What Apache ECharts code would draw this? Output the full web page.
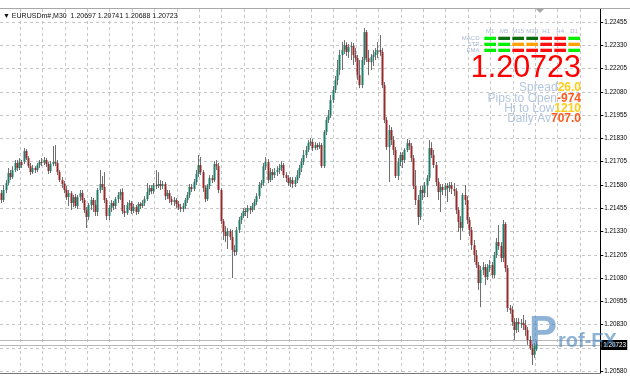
<!DOCTYPE html>
<html><head><meta charset="utf-8">
<script src="https://cdn.jsdelivr.net/npm/echarts@6/dist/echarts.min.js"></script>
<style>html,body{margin:0;padding:0;background:#fff}#c{width:630px;height:380px}</style>
</head><body><div id="c"></div>
<script>
const symbolTitle = 'EURUSDm#,M30';
const lastOHLC = ['1.20697', '1.20741', '1.20688', '1.20723'];
const yTicks = [1.22455,1.22330,1.22205,1.22080,1.21955,1.21830,1.21705,1.21580,1.21455,1.21330,1.21205,1.21080,1.20955,1.20830,1.20705,1.20580];
const bid = 1.20723;
const ask = 1.20749;

const open = [
1.21536,1.21499,1.21553,1.21590,1.21644,1.21622,1.21660,1.21698,1.21671,1.21703,
1.21703,1.21762,1.21724,1.21681,1.21649,1.21671,1.21660,1.21687,1.21703,1.21698,
1.21714,1.21692,1.21655,1.21692,1.21703,1.21698,1.21649,1.21606,1.21585,1.21553,
1.21515,1.21536,1.21483,1.21515,1.21467,1.21515,1.21536,1.21499,1.21445,1.21408,
1.21472,1.21499,1.21472,1.21435,1.21553,1.21585,1.21569,1.21499,1.21413,1.21456,
1.21483,1.21467,1.21504,1.21526,1.21542,1.21440,1.21429,1.21472,1.21483,1.21440,
1.21461,1.21435,1.21478,1.21467,1.21483,1.21504,1.21542,1.21563,1.21547,1.21579,
1.21574,1.21585,1.21574,1.21585,1.21520,1.21536,1.21504,1.21488,1.21499,1.21478,
1.21461,1.21451,1.21467,1.21499,1.21526,1.21569,1.21558,1.21596,1.21639,1.21687,
1.21649,1.21563,1.21504,1.21574,1.21617,1.21606,1.21692,1.21681,1.21553,1.21386,
1.21327,1.21306,1.21333,1.21300,1.21231,1.21220,1.21338,1.21392,1.21413,1.21440,
1.21435,1.21456,1.21445,1.21467,1.21488,1.21520,1.21579,1.21590,1.21681,1.21703,
1.21606,1.21649,1.21633,1.21649,1.21660,1.21671,1.21687,1.21633,1.21617,1.21590,
1.21606,1.21585,1.21606,1.21633,1.21671,1.21703,1.21741,1.21768,1.21805,1.21810,
1.21778,1.21794,1.21784,1.21794,1.21681,1.21864,1.21929,1.21955,1.22036,1.22090,
1.22143,1.22197,1.22278,1.22305,1.22331,1.22294,1.22321,1.22326,1.22278,1.22261,
1.22170,1.22116,1.22251,1.22401,1.22261,1.22240,1.22267,1.22278,1.22294,1.22305,
1.22294,1.22116,1.21929,1.21784,1.21875,1.21821,1.21768,1.21628,1.21703,1.21741,
1.21714,1.21768,1.21805,1.21789,1.21724,1.21574,1.21499,1.21408,1.21553,1.21536,
1.21579,1.21617,1.21778,1.21741,1.21687,1.21596,1.21542,1.21569,1.21553,1.21574,
1.21563,1.21579,1.21558,1.21547,1.21445,1.21381,1.21349,1.21526,1.21499,1.21392,
1.21338,1.21257,1.21204,1.21150,1.21053,1.21123,1.21139,1.21085,1.21134,1.21150,
1.21096,1.21204,1.21273,1.21252,1.21188,1.21370,1.21134,1.20919,1.20908,1.20844,
1.20801,1.20844,1.20833,1.20839,1.20828,1.20801,1.20747,1.20704,1.20667,1.20697
];
const close = [
1.21499,1.21553,1.21590,1.21644,1.21622,1.21660,1.21698,1.21671,1.21703,1.21687,
1.21762,1.21724,1.21681,1.21649,1.21671,1.21660,1.21687,1.21703,1.21698,1.21714,
1.21692,1.21655,1.21692,1.21703,1.21698,1.21649,1.21606,1.21585,1.21553,1.21515,
1.21536,1.21483,1.21515,1.21467,1.21515,1.21536,1.21499,1.21445,1.21408,1.21472,
1.21499,1.21472,1.21435,1.21553,1.21585,1.21569,1.21499,1.21413,1.21456,1.21483,
1.21467,1.21504,1.21526,1.21542,1.21440,1.21429,1.21472,1.21483,1.21440,1.21461,
1.21435,1.21478,1.21467,1.21483,1.21504,1.21542,1.21563,1.21547,1.21579,1.21574,
1.21585,1.21574,1.21585,1.21520,1.21536,1.21504,1.21488,1.21499,1.21478,1.21461,
1.21451,1.21467,1.21499,1.21526,1.21569,1.21558,1.21596,1.21639,1.21687,1.21649,
1.21563,1.21504,1.21574,1.21617,1.21606,1.21692,1.21681,1.21553,1.21386,1.21327,
1.21306,1.21333,1.21300,1.21231,1.21220,1.21338,1.21392,1.21413,1.21440,1.21435,
1.21456,1.21445,1.21467,1.21488,1.21520,1.21579,1.21590,1.21681,1.21703,1.21606,
1.21649,1.21633,1.21649,1.21660,1.21671,1.21687,1.21633,1.21617,1.21590,1.21606,
1.21585,1.21606,1.21633,1.21671,1.21703,1.21741,1.21768,1.21805,1.21810,1.21778,
1.21794,1.21784,1.21794,1.21681,1.21864,1.21929,1.21955,1.22036,1.22090,1.22143,
1.22197,1.22278,1.22305,1.22331,1.22294,1.22321,1.22326,1.22278,1.22261,1.22170,
1.22116,1.22251,1.22401,1.22261,1.22240,1.22267,1.22278,1.22294,1.22305,1.22294,
1.22116,1.21929,1.21784,1.21875,1.21821,1.21768,1.21628,1.21703,1.21741,1.21714,
1.21768,1.21805,1.21789,1.21724,1.21574,1.21499,1.21408,1.21553,1.21536,1.21579,
1.21617,1.21778,1.21741,1.21687,1.21596,1.21542,1.21569,1.21553,1.21574,1.21563,
1.21579,1.21558,1.21547,1.21445,1.21381,1.21349,1.21526,1.21499,1.21392,1.21338,
1.21257,1.21204,1.21150,1.21053,1.21123,1.21139,1.21085,1.21134,1.21150,1.21096,
1.21204,1.21273,1.21252,1.21188,1.21370,1.21134,1.20919,1.20908,1.20844,1.20801,
1.20844,1.20833,1.20839,1.20828,1.20801,1.20747,1.20704,1.20667,1.20715,1.20723
];
const high = [
1.21553,1.21579,1.21606,1.21671,1.21660,1.21681,1.21714,1.21714,1.21724,1.21714,
1.21778,1.21773,1.21735,1.21698,1.21687,1.21681,1.21698,1.21714,1.21724,1.21730,
1.21724,1.21703,1.21708,1.21789,1.21794,1.21714,1.21660,1.21622,1.21601,1.21574,
1.21553,1.21547,1.21526,1.21531,1.21526,1.21553,1.21553,1.21510,1.21461,1.21483,
1.21515,1.21510,1.21499,1.21563,1.21660,1.21628,1.21649,1.21510,1.21472,1.21499,
1.21494,1.21515,1.21542,1.21558,1.21563,1.21472,1.21488,1.21499,1.21494,1.21478,
1.21472,1.21488,1.21488,1.21499,1.21520,1.21590,1.21579,1.21579,1.21590,1.21660,
1.21649,1.21606,1.21601,1.21596,1.21553,1.21553,1.21520,1.21515,1.21510,1.21494,
1.21478,1.21483,1.21510,1.21542,1.21585,1.21585,1.21612,1.21660,1.21741,1.21730,
1.21660,1.21579,1.21585,1.21633,1.21633,1.21708,1.21714,1.21698,1.21563,1.21397,
1.21360,1.21349,1.21343,1.21338,1.21257,1.21354,1.21408,1.21429,1.21456,1.21456,
1.21472,1.21467,1.21483,1.21504,1.21536,1.21596,1.21606,1.21698,1.21730,1.21719,
1.21671,1.21665,1.21671,1.21681,1.21692,1.21708,1.21698,1.21649,1.21633,1.21622,
1.21622,1.21622,1.21660,1.21687,1.21724,1.21768,1.21789,1.21821,1.21832,1.21827,
1.21810,1.21805,1.21810,1.21805,1.21875,1.21945,1.21982,1.22063,1.22111,1.22165,
1.22251,1.22305,1.22347,1.22358,1.22347,1.22337,1.22347,1.22342,1.22315,1.22278,
1.22251,1.22267,1.22423,1.22412,1.22305,1.22283,1.22305,1.22315,1.22347,1.22385,
1.22315,1.22133,1.21945,1.21902,1.21891,1.21843,1.21784,1.21724,1.21757,1.21757,
1.21778,1.21827,1.21821,1.21805,1.21741,1.21660,1.21526,1.21574,1.21574,1.21596,
1.21633,1.21821,1.21810,1.21768,1.21703,1.21617,1.21585,1.21585,1.21590,1.21590,
1.21596,1.21596,1.21590,1.21563,1.21461,1.21413,1.21536,1.21579,1.21520,1.21408,
1.21354,1.21284,1.21231,1.21166,1.21145,1.21166,1.21155,1.21155,1.21177,1.21166,
1.21220,1.21295,1.21365,1.21273,1.21392,1.21381,1.21150,1.20935,1.20930,1.20865,
1.20865,1.20865,1.20860,1.20882,1.20855,1.20817,1.20769,1.20726,1.20731,1.20741
];
const low = [
1.21483,1.21488,1.21536,1.21579,1.21606,1.21612,1.21649,1.21655,1.21660,1.21671,
1.21692,1.21714,1.21671,1.21633,1.21639,1.21644,1.21649,1.21671,1.21681,1.21687,
1.21676,1.21639,1.21644,1.21681,1.21681,1.21633,1.21596,1.21563,1.21536,1.21499,
1.21467,1.21445,1.21461,1.21456,1.21451,1.21494,1.21483,1.21429,1.21349,1.21392,
1.21445,1.21435,1.21413,1.21413,1.21536,1.21553,1.21483,1.21392,1.21392,1.21435,
1.21445,1.21451,1.21483,1.21499,1.21424,1.21408,1.21419,1.21445,1.21424,1.21429,
1.21419,1.21424,1.21451,1.21456,1.21467,1.21494,1.21526,1.21531,1.21531,1.21558,
1.21563,1.21553,1.21558,1.21499,1.21504,1.21483,1.21472,1.21467,1.21456,1.21445,
1.21435,1.21435,1.21451,1.21483,1.21510,1.21542,1.21547,1.21579,1.21622,1.21633,
1.21542,1.21488,1.21494,1.21558,1.21590,1.21596,1.21660,1.21536,1.21370,1.21284,
1.21273,1.21236,1.21284,1.21080,1.21198,1.21204,1.21322,1.21370,1.21402,1.21413,
1.21402,1.21424,1.21435,1.21445,1.21472,1.21504,1.21563,1.21574,1.21660,1.21590,
1.21596,1.21606,1.21617,1.21628,1.21639,1.21655,1.21617,1.21596,1.21574,1.21569,
1.21563,1.21569,1.21590,1.21617,1.21649,1.21687,1.21724,1.21757,1.21789,1.21762,
1.21768,1.21768,1.21773,1.21671,1.21671,1.21848,1.21913,1.21939,1.22020,1.22074,
1.22116,1.22170,1.22197,1.22283,1.22272,1.22261,1.22251,1.22224,1.22240,1.22143,
1.22100,1.22100,1.22224,1.22240,1.22170,1.22197,1.22219,1.22251,1.22261,1.22272,
1.22100,1.21913,1.21768,1.21596,1.21794,1.21741,1.21617,1.21606,1.21681,1.21671,
1.21698,1.21757,1.21768,1.21703,1.21558,1.21472,1.21365,1.21392,1.21499,1.21515,
1.21515,1.21601,1.21724,1.21671,1.21574,1.21499,1.21435,1.21526,1.21520,1.21488,
1.21542,1.21531,1.21520,1.21424,1.21327,1.21284,1.21333,1.21472,1.21370,1.21306,
1.21231,1.21166,1.21134,1.21016,1.20924,1.21096,1.21042,1.21069,1.21112,1.21080,
1.21080,1.21188,1.21231,1.21166,1.21166,1.21112,1.20898,1.20887,1.20823,1.20747,
1.20785,1.20790,1.20812,1.20801,1.20769,1.20721,1.20694,1.20613,1.20651,1.20688
];

const timeframes = ['M1', 'M5', 'M15', 'M30', 'H1', 'H4', 'D1'];
const signalRows = ['MACD', 'STR', 'EMA'];
const macdSignal = ['up', 'weak', 'weak', 'weak', 'down', 'down', 'up'];
const strSignal  = ['up', 'up', 'flat', 'flat', 'down', 'down', 'flat'];
const emaSignal  = ['up', 'up', 'down', 'down', 'down', 'down', 'up'];
const bigPrice = '1.20723';
const statLabels = ['Spread', 'Pips to Open', 'Hi to Low', 'Daily Av'];
const statValues = ['26.0', '-974', '1210', '707.0'];
const statKinds = ['gold', 'hot', 'gold', 'hot'];

const signalColor = { up: '#00f000', weak: '#0b6b12', flat: '#ffa200', down: '#ff1010' };
const statColor = { gold: '#ffcc1a', hot: '#ff5a1e' };

const nSlots = 268;
const slots = Array.from({ length: nSlots }, (_, i) => i);
const rows = open.map((o, i) => [i, o, close[i], low[i], high[i]]);
const priceLines = [[0, ask, 0], [0, bid, 1]];

function renderCandle(params, api) {
  const i = api.value(0);
  const o = api.value(1), c = api.value(2), lo = api.value(3), hi = api.value(4);
  const po = api.coord([i, o]);
  const x = Math.round(po[0]) + 0.5;
  const yo = po[1], yc = api.coord([i, c])[1];
  const yl = api.coord([i, lo])[1], yh = api.coord([i, hi])[1];
  const bw = 2;
  const up = c >= o;
  const top = Math.min(yo, yc);
  const h = Math.max(Math.abs(yo - yc), 1);
  return {
    type: 'group',
    children: [
      { type: 'line', shape: { x1: x, y1: yh, x2: x, y2: yl }, style: { stroke: '#6f6f6f', lineWidth: 1 } },
      { type: 'rect', shape: { x: x - bw / 2, y: top, width: bw, height: h },
        style: { fill: up ? '#1f7d6b' : '#962a2a', stroke: null } }
    ]
  };
}

function renderPriceLine(params, api) {
  const cs = params.coordSys;
  const v = api.value(1);
  const y = Math.round(api.coord([0, v])[1]) + 0.5;
  const children = [
    { type: 'line', shape: { x1: cs.x, y1: y, x2: cs.x + cs.width, y2: y }, style: { stroke: '#b8b8b8', lineWidth: 1 } }
  ];
  if (api.value(2) === 1) {
    children.push({ type: 'rect', shape: { x: cs.x + cs.width + 1, y: y - 5.5, width: 26, height: 10 }, style: { fill: '#000' } });
    children.push({ type: 'text', x: cs.x + cs.width + 3, y: y, style: { text: v.toFixed(5),
      font: '6.3px "Liberation Sans"', fill: '#fff', textVerticalAlign: 'middle' } });
  }
  return { type: 'group', children: children };
}

const graphics = [];
graphics.push({ type: 'line', shape: { x1: 0, y1: 8.5, x2: 630, y2: 8.5 }, style: { stroke: '#a8a8a8', lineWidth: 1 }, z: 10 });
graphics.push({ type: 'polygon', shape: { points: [[536, 9], [544, 9], [540, 13]] }, style: { fill: '#a8a8a8' }, z: 10 });
graphics.push({ type: 'text', x: 3, y: 16, style: { text: '\u25BC ' + symbolTitle + '  ' + lastOHLC.join(' '),
  font: '7px "Liberation Sans"', fill: '#111', textVerticalAlign: 'middle' }, z: 10 });

const colLeft = 484.3, colStep = 14, cellW = 11.7, cellH = 3.3;
const rowTop = [36.7, 42.7, 48.7];
const rowSignals = [macdSignal, strSignal, emaSignal];
timeframes.forEach((tf, k) => {
  graphics.push({ type: 'text', x: colLeft + k * colStep + cellW / 2, y: 31.5, style: { text: tf,
    font: '6px "Liberation Sans"', fill: '#a9b9d2', textAlign: 'center', textVerticalAlign: 'middle' }, z: 10 });
  rowSignals.forEach((sig, r) => {
    graphics.push({ type: 'rect', shape: { x: colLeft + k * colStep, y: rowTop[r], width: cellW, height: cellH },
      style: { fill: signalColor[sig[k]] }, z: 10 });
  });
});
signalRows.forEach((name, r) => {
  graphics.push({ type: 'text', x: 479.5, y: rowTop[r] + cellH / 2, style: { text: name,
    font: '6px "Liberation Sans"', fill: '#a9b9d2', textAlign: 'right', textVerticalAlign: 'middle' }, z: 10 });
});
graphics.push({ type: 'text', x: 581, y: 69, style: { text: bigPrice, font: '30.5px "Liberation Sans"',
  fill: '#ff0000', textAlign: 'right', textVerticalAlign: 'middle' }, z: 10 });
statLabels.forEach((lab, r) => {
  graphics.push({ type: 'text', x: 581, y: 88 + r * 10.3, style: {
    text: '{l|' + lab + '}{v|' + statValues[r] + '}', textAlign: 'right', textVerticalAlign: 'middle',
    rich: {
      l: { font: '12px "Liberation Sans"', fill: '#b4c6df' },
      v: { font: 'bold 12px "Liberation Sans"', fill: statColor[statKinds[r]] }
    } }, z: 10 });
});
graphics.push({ type: 'text', x: 529, y: 354, style: { text: 'P', font: 'bold 42px "Liberation Sans"',
  fill: 'rgba(66,128,186,0.6)', textVerticalAlign: 'bottom' }, z: 5 });
graphics.push({ type: 'text', x: 558, y: 351, style: { text: 'rof-FX', font: 'bold 20px "Liberation Sans"',
  fill: 'rgba(66,128,186,0.6)', textVerticalAlign: 'bottom' }, z: 5 });

const chart = echarts.init(document.getElementById('c'), null, { renderer: 'canvas' });
chart.setOption({
  animation: false,
  backgroundColor: '#ffffff',
  grid: { left: 0, right: 27, top: 9, bottom: 7 },
  xAxis: {
    type: 'category', data: slots, boundaryGap: true,
    axisLine: { show: true, lineStyle: { color: '#777', width: 1 } },
    axisTick: { show: false }, axisLabel: { show: false },
    splitLine: { show: true, interval: (idx) => idx % 10 === 9, lineStyle: { color: '#c6c6c6', type: [3, 3], width: 1 } }
  },
  yAxis: {
    type: 'value', position: 'right', min: 1.20570, max: 1.22525,
    axisLine: { show: true, lineStyle: { color: '#000', width: 1 } },
    axisTick: { show: true, length: 3, inside: false, customValues: yTicks, lineStyle: { color: '#000' } },
    axisLabel: { show: true, customValues: yTicks, formatter: (v) => v.toFixed(5), fontSize: 6.3,
      fontFamily: 'Liberation Sans', color: '#000', margin: 4 },
    splitLine: { show: true, lineStyle: { color: '#c6c6c6', type: [3, 3], width: 1 } }
  },
  graphic: graphics,
  series: [
    { type: 'custom', renderItem: renderPriceLine, data: priceLines, encode: { x: 0, y: 1 }, clip: false, z: 1, silent: true },
    { type: 'custom', renderItem: renderCandle, data: rows, encode: { x: 0, y: [1, 2, 3, 4] }, clip: true, z: 2 }
  ]
});
</script></body></html>
